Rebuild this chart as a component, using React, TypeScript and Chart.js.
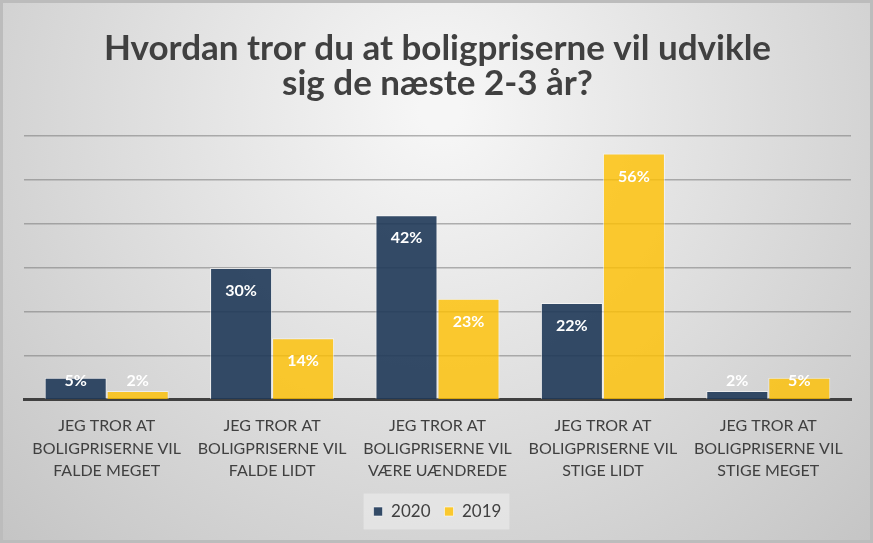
import React, { useEffect, useRef } from "react";
import { Chart, registerables } from "chart.js";

Chart.register(...registerables);

const categories: string[][] = [
  ["JEG TROR AT", "BOLIGPRISERNE VIL", "FALDE MEGET"],
  ["JEG TROR AT", "BOLIGPRISERNE VIL", "FALDE LIDT"],
  ["JEG TROR AT", "BOLIGPRISERNE VIL", "VÆRE UÆNDREDE"],
  ["JEG TROR AT", "BOLIGPRISERNE VIL", "STIGE LIDT"],
  ["JEG TROR AT", "BOLIGPRISERNE VIL", "STIGE MEGET"],
];
const values2020 = [5, 30, 42, 22, 2];
const values2019 = [2, 14, 23, 56, 5];
const titleLines = ["Hvordan tror du at boligpriserne vil udvikle", "sig de næste 2-3 år?"];

const FONT = "Lato, 'Open Sans', sans-serif";

const backgroundPlugin = {
  id: "bg",
  beforeDraw(chart: any) {
    const { ctx, width, height } = chart;
    ctx.save();
    const g = ctx.createRadialGradient(440, 110, 20, 440, 110, 620);
    g.addColorStop(0, "#f6f6f6");
    g.addColorStop(1, "#c4c4c4");
    ctx.fillStyle = g;
    ctx.fillRect(0, 0, width, height);
    ctx.strokeStyle = "#bcbcbc";
    ctx.lineWidth = 3;
    ctx.strokeRect(1.5, 1.5, width - 3, height - 3);
    // legend panel, only round the items
    const lg = chart.legend;
    if (lg && lg.legendHitBoxes && lg.legendHitBoxes.length) {
      const boxes = lg.legendHitBoxes;
      const left = Math.min(...boxes.map((b: any) => b.left)) - 10;
      const right = Math.max(...boxes.map((b: any) => b.left + b.width)) + 8;
      const mid = boxes[0].top + boxes[0].height / 2;
      ctx.fillStyle = "rgba(236,236,236,0.6)";
      ctx.fillRect(left, mid - 18, right - left, 36);
    }
    ctx.restore();
  },
};

const labelPlugin = {
  id: "barLabels",
  afterDatasetsDraw(chart: any) {
    const { ctx } = chart;
    ctx.save();
    ctx.fillStyle = "#ffffff";
    ctx.font = `bold 16px ${FONT}`;
    ctx.textAlign = "center";
    ctx.textBaseline = "middle";
    chart.data.datasets.forEach((ds: any, i: number) => {
      const meta = chart.getDatasetMeta(i);
      meta.data.forEach((bar: any, j: number) => {
        const y = Math.min(bar.y + 23, bar.base - 18);
        ctx.fillText(`${ds.data[j]}%`, bar.x, y);
      });
    });
    ctx.restore();
  },
};

export default function App() {
  const canvasRef = useRef<HTMLCanvasElement | null>(null);
  const chartRef = useRef<Chart | null>(null);

  useEffect(() => {
    document.body.style.margin = "0";
    if (!canvasRef.current) return;
    const ctx = canvasRef.current.getContext("2d");
    if (!ctx) return;

    chartRef.current = new Chart(ctx, {
      type: "bar",
      data: {
        labels: categories,
        datasets: [
          {
            label: "2020",
            data: values2020,
            backgroundColor: "rgba(31,56,88,0.9)",
            borderColor: "rgba(255,255,255,0.55)",
            borderWidth: 1,
            barPercentage: 1,
            categoryPercentage: 0.75,
          },
          {
            label: "2019",
            data: values2019,
            backgroundColor: "rgba(255,192,0,0.8)",
            borderColor: "rgba(255,255,255,0.55)",
            borderWidth: 1,
            barPercentage: 1,
            categoryPercentage: 0.75,
          },
        ],
      },
      options: {
        responsive: false,
        animation: false,
        layout: { padding: { left: 24, right: 22, top: 0, bottom: 13 } },
        plugins: {
          title: {
            display: true,
            text: titleLines,
            color: "#404040",
            font: { family: FONT, size: 35, weight: "bold", lineHeight: 1.0 },
            padding: { top: 31, bottom: 35 },
          },
          legend: {
            position: "bottom",
            labels: {
              color: "#404040",
              font: { family: FONT, size: 17 },
              boxWidth: 9,
              boxHeight: 9,
              padding: 14,
              useBorderRadius: false,
            },
          },
          tooltip: { enabled: false },
        },
        scales: {
          x: {
            grid: { display: false },
            border: { color: "#404040", width: 3 },
            ticks: {
              color: "#404040",
              font: { family: FONT, size: 16, lineHeight: 1.4 },
              maxRotation: 0,
              autoSkip: false,
              padding: 7,
            },
          },
          y: {
            min: 0,
            max: 60,
            ticks: { display: false, stepSize: 10 },
            border: { display: false },
            grid: { color: "rgba(120,120,120,0.55)", lineWidth: 1.5, drawTicks: false },
          },
        },
      },
      plugins: [backgroundPlugin, labelPlugin],
    });

    return () => {
      if (chartRef.current) {
        chartRef.current.destroy();
        chartRef.current = null;
      }
    };
  }, []);

  return (
    <div style={{ width: 873, height: 543 }}>
      <canvas ref={canvasRef} width={873} height={543} />
    </div>
  );
}
